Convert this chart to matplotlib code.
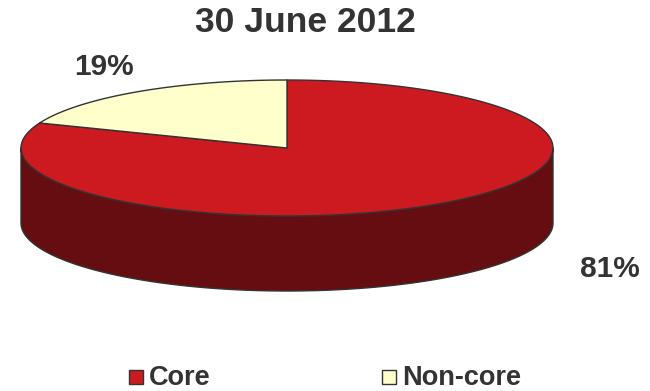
import numpy as np
import matplotlib.pyplot as plt
from matplotlib.patches import Polygon, Rectangle

plt.rcParams['font.family'] = ['Liberation Sans', 'DejaVu Sans']

TITLE = '30 June 2012'
labels = ['Core', 'Non-core']
shares = [81, 19]
colors = ['#cc1a20', '#ffffcc']
side_colors = ['#660d11', '#b3b38f']
EDGE = '#333333'
TEXT = '#333333'

# pie geometry in pixel space
CX, CY = 287, 148
RX, RY = 266, 68
DEPTH = 75


def ellipse_pts(a0, a1, n=200, dy=0):
    t = np.radians(np.linspace(a0, a1, n))
    return np.column_stack([CX + RX * np.cos(t), CY - RY * np.sin(t) + dy])


fig = plt.figure(figsize=(6.5, 3.91), dpi=100)
ax = fig.add_axes([0, 0, 1, 1])
ax.set_xlim(0, 650)
ax.set_ylim(391, 0)
ax.axis('off')

# slice angles: start at 12 o'clock, Non-core goes counter-clockwise
total = sum(shares)
spans = [s / total * 360 for s in shares]
nc_start = 90
nc_end = 90 + spans[1]
angles = {'Non-core': (nc_start, nc_end), 'Core': (nc_end, nc_end + spans[0])}

# side walls, only the front half (180..360 deg) is visible
for lab, col in zip(labels, side_colors):
    a0, a1 = angles[lab]
    lo, hi = max(a0, 180), min(a1, 360)
    if lo < hi:
        top = ellipse_pts(lo, hi)
        bot = ellipse_pts(hi, lo, dy=DEPTH)
        ax.add_patch(Polygon(np.vstack([top, bot]), closed=True, fc=col,
                             ec=EDGE, lw=1.0, joinstyle='round'))

# top faces
for lab, col in zip(labels, colors):
    a0, a1 = angles[lab]
    pts = np.vstack([[CX, CY], ellipse_pts(a0, a1)])
    ax.add_patch(Polygon(pts, closed=True, fc=col, ec=EDGE, lw=1.0,
                         joinstyle='round'))

ax.text(305, 23, TITLE, ha='center', va='center', fontsize=25.5,
        fontweight='bold', color=TEXT)
ax.text(104, 67, f'{shares[1]}%', ha='center', va='center', fontsize=21.5,
        fontweight='bold', color=TEXT)
ax.text(610, 269, f'{shares[0]}%', ha='center', va='center', fontsize=21.5,
        fontweight='bold', color=TEXT)

# legend
legend_x = [129, 382]
for x, lab, col in zip(legend_x, labels, colors):
    ax.add_patch(Rectangle((x, 370), 14, 14, fc=col, ec=EDGE, lw=1.0))
    ax.text(x + 20, 378, lab, ha='left', va='center', fontsize=19.5,
            fontweight='bold', color=TEXT)

fig.savefig('out.png', dpi=100)
